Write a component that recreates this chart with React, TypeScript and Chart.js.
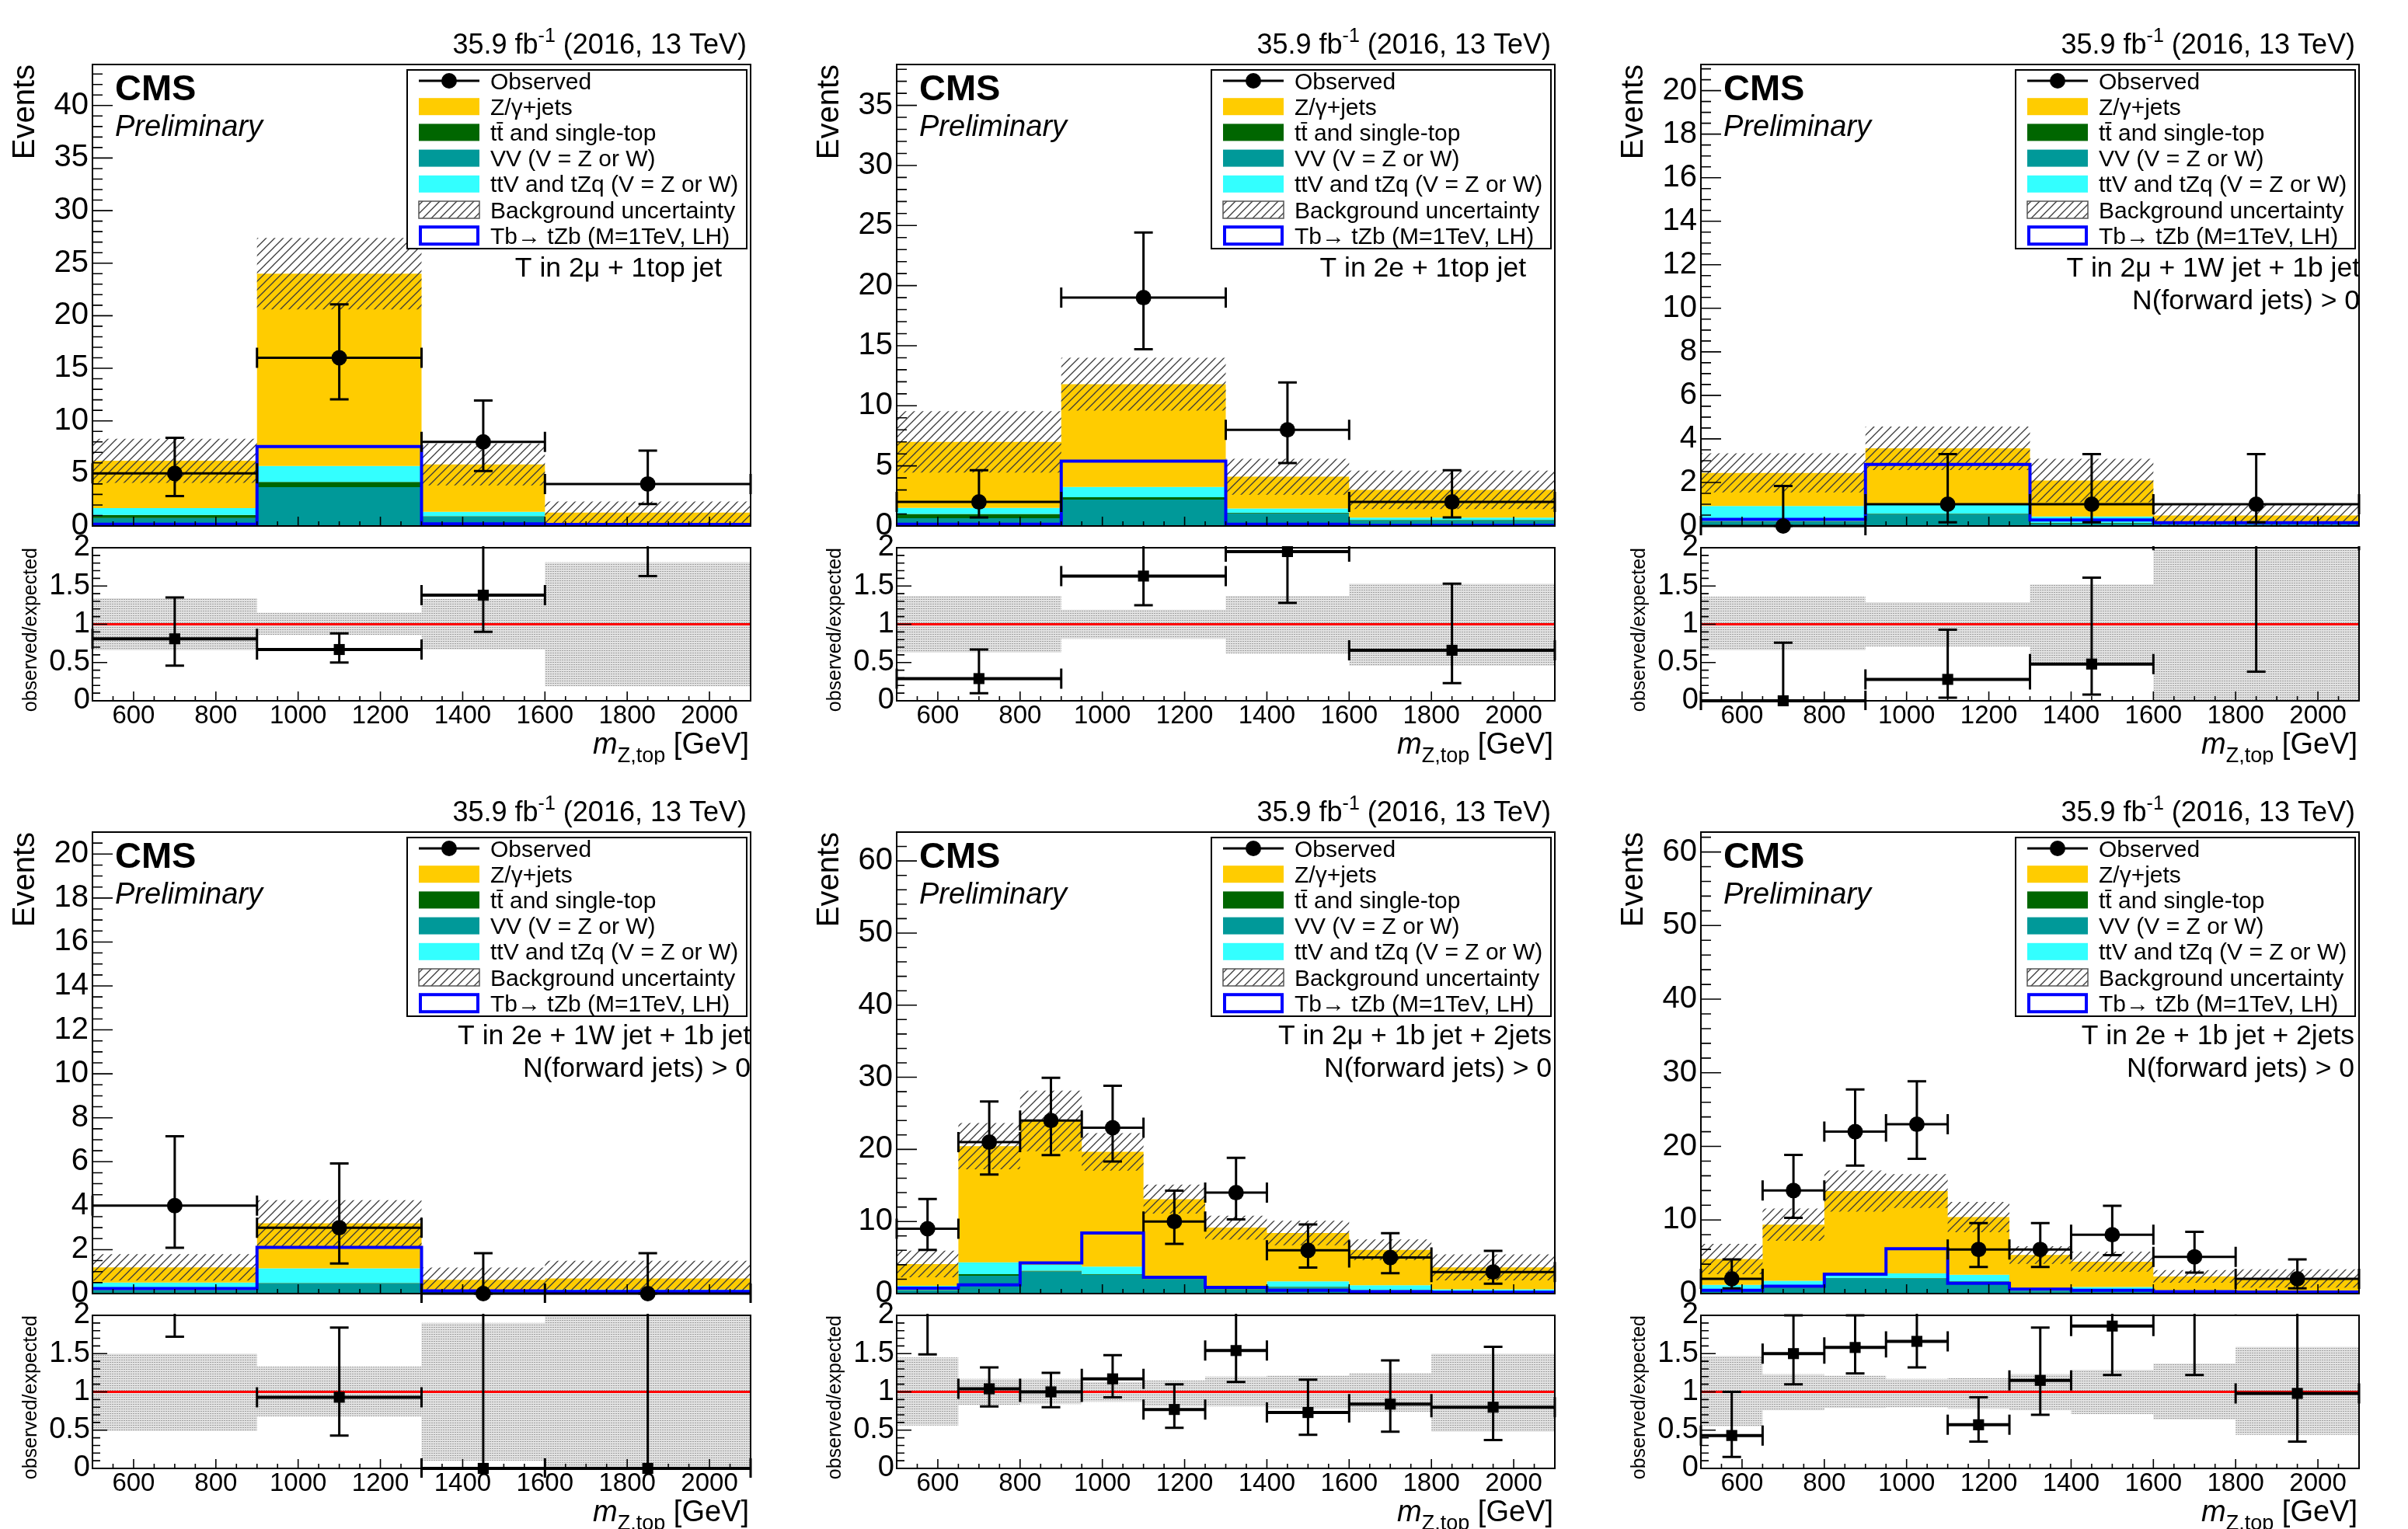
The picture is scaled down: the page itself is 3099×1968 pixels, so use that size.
import React, { useEffect, useRef } from 'react';
import { Chart, registerables } from 'chart.js';

Chart.register(...registerables);

const FONT = '"Liberation Sans", Arimo, Arial, Helvetica, sans-serif';
Chart.defaults.font.family = FONT;

// ---------------- data ----------------
const channelLabels = [
  ['T in 2\u03bc + 1top jet'],
  ['T in 2e + 1top jet'],
  ['T in 2\u03bc + 1W jet + 1b jet', 'N(forward jets) > 0'],
  ['T in 2e + 1W jet + 1b jet', 'N(forward jets) > 0'],
  ['T in 2\u03bc + 1b jet + 2jets', 'N(forward jets) > 0'],
  ['T in 2e + 1b jet + 2jets', 'N(forward jets) > 0'],
];
const legendLabels = [
  'Observed',
  'Z/\u03b3+jets',
  'tt\u0304 and single-top',
  'VV (V = Z or W)',
  'ttV and tZq (V = Z or W)',
  'Background uncertainty',
  'Tb\u2192 tZb (M=1TeV, LH)',
];
const lumiParts = ['35.9 fb', '-1', ' (2016, 13 TeV)'];

const edgesCoarse = [500, 900, 1300, 1600, 2100];
const edgesFine = [500, 650, 800, 950, 1100, 1250, 1400, 1600, 1800, 2100];
const binEdges = [edgesCoarse, edgesCoarse, edgesCoarse, edgesCoarse, edgesFine, edgesFine];

const vvYields = [
  [0.75, 3.7, 0.9, 0.12],
  [0.65, 2.2, 1.05, 0.45],
  [0.2, 0.55, 0.12, 0.1],
  [0.15, 0.47, 0.08, 0.08],
  [0.47, 2.47, 3.08, 2.6, 2.0, 0.6, 0.84, 0.47, 0.25],
  [0.45, 0.8, 2.1, 2.05, 1.42, 0.35, 0.45, 0.18, 0.18],
];
const ttYields = [
  [0.3, 0.5, 0.05, 0.02],
  [0.35, 0.2, 0.05, 0.05],
  [0.02, 0.02, 0.02, 0.01],
  [0.02, 0.02, 0.01, 0.01],
  [0.05, 0.23, 0.1, 0.1, 0.1, 0.1, 0.1, 0.05, 0.05],
  [0.05, 0.05, 0.05, 0.05, 0.25, 0.05, 0.05, 0.02, 0.02],
];
const ttvYields = [
  [0.65, 1.5, 0.4, 0.1],
  [0.5, 0.85, 0.35, 0.2],
  [0.7, 0.4, 0.3, 0.05],
  [0.33, 0.66, 0.05, 0.1],
  [0.55, 1.65, 0.82, 1.05, 0.25, 0.35, 0.76, 0.65, 0.3],
  [0.7, 0.9, 0.5, 0.64, 0.89, 0.2, 0.4, 0.25, 0.1],
];
const zjetsYields = [
  [4.5, 18.3, 4.51, 1.04],
  [5.5, 8.55, 2.65, 2.3],
  [1.52, 2.6, 1.65, 0.32],
  [0.69, 2.05, 0.49, 0.5],
  [3.03, 16.1, 19.95, 15.9, 10.75, 8.1, 6.7, 4.9, 3.04],
  [3.5, 7.62, 11.29, 11.2, 7.84, 4.65, 3.44, 1.88, 1.76],
];
const bkgUnc = [
  [2.1, 3.4, 2.0, 1.05],
  [2.55, 2.2, 1.5, 1.6],
  [0.9, 1.0, 1.0, 0.5],
  [0.6, 1.05, 0.55, 0.8],
  [1.85, 3.2, 4.2, 2.6, 2.0, 1.65, 1.7, 1.45, 1.8],
  [2.05, 2.2, 2.8, 2.3, 2.05, 1.2, 1.35, 0.85, 1.25],
];
const signalYields = [
  [0.16, 7.55, 0.2, 0.15],
  [0.15, 5.4, 0.15, 0.05],
  [0.3, 2.83, 0.28, 0.15],
  [0.23, 2.1, 0.12, 0.1],
  [0.75, 1.2, 4.25, 8.4, 2.25, 0.85, 0.47, 0.28, 0.2],
  [0.45, 1.0, 2.65, 6.1, 1.4, 0.6, 0.45, 0.27, 0.2],
];
const observed = [
  [5, 16, 8, 4],
  [2, 19, 8, 2],
  [0, 1, 1, 1],
  [4, 3, 0, 0],
  [9, 21, 24, 23, 10, 14, 6, 5, 3],
  [2, 14, 22, 23, 6, 6, 8, 5, 2],
];
const obsLow = [
  [2.84, 12.05, 5.23, 2.09],
  [0.71, 14.71, 5.23, 0.71],
  [0, 0.17, 0.17, 0.17],
  [2.09, 1.37, 0, 0],
  [6.06, 16.5, 19.21, 18.31, 6.89, 10.3, 3.62, 2.84, 1.37],
  [0.71, 10.3, 17.4, 18.31, 3.62, 3.62, 5.23, 2.84, 0.71],
];
const obsHigh = [
  [8.38, 21.08, 11.94, 7.16],
  [4.64, 24.42, 11.94, 4.64],
  [1.84, 3.3, 3.3, 3.3],
  [7.16, 5.92, 1.84, 1.84],
  [13.11, 26.63, 29.92, 28.83, 14.27, 18.83, 9.58, 8.38, 5.92],
  [4.64, 18.83, 27.73, 28.83, 9.58, 9.58, 11.94, 8.38, 4.64],
];
const ratioVals = [
  [0.81, 0.67, 1.38, 3.1],
  [0.29, 1.63, 1.95, 0.66],
  [0, 0.28, 0.48, 2.1],
  [3.36, 0.93, 0, 0],
  [2.2, 1.04, 1.0, 1.17, 0.77, 1.54, 0.73, 0.84, 0.8],
  [0.43, 1.5, 1.58, 1.66, 0.57, 1.15, 1.86, 2.15, 0.98],
];
const ratioLow = [
  [0.46, 0.5, 0.9, 1.63],
  [0.1, 1.25, 1.28, 0.23],
  [0, 0.04, 0.08, 0.38],
  [1.72, 0.43, 0, 0],
  [1.49, 0.81, 0.8, 0.93, 0.53, 1.13, 0.44, 0.48, 0.37],
  [0.15, 1.1, 1.24, 1.32, 0.35, 0.7, 1.22, 1.22, 0.35],
];
const ratioHigh = [
  [1.35, 0.88, 2.04, 5.6],
  [0.67, 2.07, 2.9, 1.53],
  [0.76, 0.93, 1.61, 6.9],
  [6.0, 1.84, 2.9, 2.7],
  [3.2, 1.32, 1.25, 1.48, 1.1, 2.06, 1.16, 1.41, 1.59],
  [1.0, 2.0, 2.0, 2.07, 0.93, 1.84, 2.74, 3.6, 2.25],
];
const bandLow = [
  [0.66, 0.86, 0.67, 0.19],
  [0.63, 0.81, 0.62, 0.46],
  [0.66, 0.71, 0.5, 0],
  [0.49, 0.68, 0.1, 0],
  [0.56, 0.83, 0.84, 0.87, 0.81, 0.81, 0.78, 0.74, 0.48],
  [0.55, 0.76, 0.79, 0.8, 0.78, 0.76, 0.71, 0.64, 0.44],
];
const bandHigh = [
  [1.34, 1.15, 1.33, 1.81],
  [1.37, 1.19, 1.37, 1.53],
  [1.36, 1.29, 1.52, 2.0],
  [1.5, 1.33, 1.9, 2.0],
  [1.45, 1.17, 1.17, 1.13, 1.15, 1.2, 1.21, 1.24, 1.5],
  [1.47, 1.23, 1.21, 1.17, 1.18, 1.23, 1.29, 1.37, 1.59],
];

const yMax = [43.9, 38.4, 21.2, 21.0, 64.0, 62.7];
const yMajorTicks = [
  [0, 5, 10, 15, 20, 25, 30, 35, 40],
  [0, 5, 10, 15, 20, 25, 30, 35],
  [0, 2, 4, 6, 8, 10, 12, 14, 16, 18, 20],
  [0, 2, 4, 6, 8, 10, 12, 14, 16, 18, 20],
  [0, 10, 20, 30, 40, 50, 60],
  [0, 10, 20, 30, 40, 50, 60],
];
const yMinorStep = [1, 1, 0.5, 0.5, 2, 2];
const xMajorTicks = [600, 800, 1000, 1200, 1400, 1600, 1800, 2000];
const xMinorStep = 50;
const xRange = [500, 2100];
const ratioTicks = [0, 0.5, 1, 1.5, 2];
const ratioMinorStep = 0.1;
const ratioRange = [0, 2];

// ---------------- styles / layout ----------------
const COLORS = {
  z: '#ffcc00',
  tt: '#006600',
  vv: '#009999',
  ttv: '#33ffff',
  signal: '#0000ff',
};
const legendColors = [null, COLORS.z, COLORS.tt, COLORS.vv, COLORS.ttv];

const PANEL_W = 1035;
const ROW_H = 988;
const COL_X = [0, 1035, 2070];
const FRAME_L = 119;
const FRAME_R = 966;
const MAIN_T = 83;
const MAIN_B = 677;
const MAIN_H = 712;
const RATIO_T = 705;
const RATIO_B = 902;
const RCV_TOP = 672;
const RCV_H = 312;
const chanRight = [929, 929, 967, 966, 962, 960];

function stepPoints(e: number[], vals: number[]) {
  const pts = vals.map((v, i) => ({ x: e[i], y: v }));
  pts.push({ x: e[e.length - 1], y: vals[vals.length - 1] });
  return pts;
}
function stepList(lo: number, hi: number, step: number) {
  const out: number[] = [];
  const n = Math.floor((hi - lo) / step + 1e-6);
  for (let i = 0; i <= n; i++) out.push(+(lo + i * step).toFixed(6));
  return out;
}

function makeHatch() {
  const s = 11;
  const c = document.createElement('canvas');
  c.width = s;
  c.height = s;
  const g = c.getContext('2d')!;
  g.strokeStyle = '#3a3a3a';
  g.lineWidth = 1.3;
  g.beginPath();
  g.moveTo(-1, s + 1);
  g.lineTo(s + 1, -1);
  g.moveTo(-1, 1);
  g.lineTo(1, -1);
  g.moveTo(s - 1, s + 1);
  g.lineTo(s + 1, s - 1);
  g.stroke();
  return g.createPattern(c, 'repeat');
}
function makeDots() {
  const c = document.createElement('canvas');
  c.width = 3;
  c.height = 3;
  const g = c.getContext('2d')!;
  g.fillStyle = '#e2e2e2';
  g.fillRect(0, 0, 3, 3);
  g.fillStyle = '#a0a0a0';
  g.fillRect(0, 0, 2, 1);
  return g.createPattern(c, 'repeat');
}

function txt(ctx: any, s: string, x: number, y: number, size: number, o: any = {}) {
  ctx.save();
  ctx.font = `${o.italic ? 'italic ' : ''}${o.bold ? 'bold ' : ''}${size}px ${FONT}`;
  ctx.fillStyle = o.color || '#000';
  ctx.textAlign = o.align || 'left';
  ctx.textBaseline = 'alphabetic';
  if (o.rotate) {
    ctx.translate(x, y);
    ctx.rotate(o.rotate);
    ctx.fillText(s, 0, 0);
  } else {
    ctx.fillText(s, x, y);
  }
  ctx.restore();
}
function measure(ctx: any, s: string, size: number, o: any = {}) {
  ctx.save();
  ctx.font = `${o.italic ? 'italic ' : ''}${o.bold ? 'bold ' : ''}${size}px ${FONT}`;
  const w = ctx.measureText(s).width;
  ctx.restore();
  return w;
}

function drawAxes(chart: any, yMaj: number[], yMin: number[], yL: number, yl: number, xL: number, xl: number) {
  const { ctx, chartArea: a, scales } = chart;
  const x = scales.x;
  const y = scales.y;
  ctx.save();
  ctx.strokeStyle = '#000';
  ctx.lineWidth = 1.6;
  ctx.beginPath();
  yMaj.forEach((v) => {
    const py = y.getPixelForValue(v);
    ctx.moveTo(a.left, py);
    ctx.lineTo(a.left + yL, py);
  });
  yMin.forEach((v) => {
    const py = y.getPixelForValue(v);
    ctx.moveTo(a.left, py);
    ctx.lineTo(a.left + yl, py);
  });
  xMajorTicks.forEach((v) => {
    const px = x.getPixelForValue(v);
    ctx.moveTo(px, a.bottom);
    ctx.lineTo(px, a.bottom - xL);
  });
  stepList(xRange[0], xRange[1], xMinorStep).forEach((v) => {
    const px = x.getPixelForValue(v);
    ctx.moveTo(px, a.bottom);
    ctx.lineTo(px, a.bottom - xl);
  });
  ctx.stroke();
  ctx.lineWidth = 2;
  ctx.strokeRect(a.left, a.top, a.right - a.left, a.bottom - a.top);
  ctx.restore();
}

function drawErrors(chart: any, e: number[], vals: number[], lows: number[], highs: number[], hW: number) {
  const { ctx, chartArea: a, scales } = chart;
  const x = scales.x;
  const y = scales.y;
  ctx.save();
  ctx.beginPath();
  ctx.rect(a.left - 20, a.top - 2, a.right - a.left + 40, a.bottom - a.top + 14);
  ctx.clip();
  ctx.strokeStyle = '#000';
  ctx.lineWidth = hW;
  ctx.beginPath();
  vals.forEach((v, i) => {
    const xl = x.getPixelForValue(e[i]);
    const xr = x.getPixelForValue(e[i + 1]);
    const yv = y.getPixelForValue(v);
    ctx.moveTo(xl, yv);
    ctx.lineTo(xr, yv);
  });
  ctx.stroke();
  ctx.lineWidth = 3;
  ctx.beginPath();
  vals.forEach((v, i) => {
    const xl = x.getPixelForValue(e[i]);
    const xr = x.getPixelForValue(e[i + 1]);
    const xc = x.getPixelForValue((e[i] + e[i + 1]) / 2);
    const yv = y.getPixelForValue(v);
    const yl = y.getPixelForValue(lows[i]);
    const yh = y.getPixelForValue(highs[i]);
    ctx.moveTo(xl, yv - 13);
    ctx.lineTo(xl, yv + 13);
    ctx.moveTo(xr, yv - 13);
    ctx.lineTo(xr, yv + 13);
    ctx.moveTo(xc, yl);
    ctx.lineTo(xc, yh);
    ctx.moveTo(xc - 12, yl);
    ctx.lineTo(xc + 12, yl);
    ctx.moveTo(xc - 12, yh);
    ctx.lineTo(xc + 12, yh);
  });
  ctx.stroke();
  ctx.restore();
}

function drawLegend(ctx: any, hatch: any) {
  const L = 524, R = 961, T = 90, B = 320;
  ctx.save();
  ctx.fillStyle = '#fff';
  ctx.fillRect(L, T, R - L, B - T);
  ctx.strokeStyle = '#000';
  ctx.lineWidth = 2;
  ctx.strokeRect(L, T, R - L, B - T);
  const sx0 = 539, sx1 = 617, tx = 631;
  legendLabels.forEach((lab, k) => {
    const cy = 104 + k * 33.2;
    if (k === 0) {
      ctx.strokeStyle = '#000';
      ctx.lineWidth = 3;
      ctx.beginPath();
      ctx.moveTo(sx0, cy);
      ctx.lineTo(sx1, cy);
      ctx.stroke();
      ctx.fillStyle = '#000';
      ctx.beginPath();
      ctx.arc((sx0 + sx1) / 2, cy, 10, 0, Math.PI * 2);
      ctx.fill();
    } else if (k <= 4) {
      ctx.fillStyle = legendColors[k];
      ctx.fillRect(sx0, cy - 11, sx1 - sx0, 22);
    } else if (k === 5) {
      ctx.fillStyle = hatch;
      ctx.fillRect(sx0, cy - 11, sx1 - sx0, 22);
      ctx.strokeStyle = '#555';
      ctx.lineWidth = 1.5;
      ctx.strokeRect(sx0, cy - 11, sx1 - sx0, 22);
    } else {
      ctx.strokeStyle = COLORS.signal;
      ctx.lineWidth = 4;
      ctx.strokeRect(sx0 + 2, cy - 11, sx1 - sx0 - 4, 22);
    }
    txt(ctx, lab, tx, cy + 10.5, 30);
  });
  ctx.restore();
}

function drawLumi(ctx: any, right: number, base: number) {
  const w3 = measure(ctx, lumiParts[2], 36);
  const w2 = measure(ctx, lumiParts[1], 25);
  const w1 = measure(ctx, lumiParts[0], 36);
  txt(ctx, lumiParts[2], right - w3, base, 36);
  txt(ctx, lumiParts[1], right - w3 - w2, base - 15, 25);
  txt(ctx, lumiParts[0], right - w3 - w2 - w1, base, 36);
}

const NONE = 'rgba(0,0,0,0)';

function mainConfig(p: number, hatch: any): any {
  const e = binEdges[p];
  const c1 = vvYields[p];
  const c2 = c1.map((v, i) => v + ttYields[p][i]);
  const c3 = c2.map((v, i) => v + ttvYields[p][i]);
  const c4 = c3.map((v, i) => v + zjetsYields[p][i]);
  const lo = c4.map((v, i) => Math.max(0, v - bkgUnc[p][i]));
  const hi = c4.map((v, i) => v + bkgUnc[p][i]);
  const centers = e.slice(0, -1).map((v, i) => (v + e[i + 1]) / 2);
  const area = (vals: number[], color: any, order: number, fill: any) => ({
    data: stepPoints(e, vals),
    stepped: 'before',
    borderColor: NONE,
    borderWidth: 0,
    backgroundColor: color,
    fill,
    pointRadius: 0,
    order,
  });
  const yMinor = stepList(0, yMax[p], yMinorStep[p]);
  return {
    type: 'line',
    data: {
      datasets: [
        area(c1, COLORS.vv, 20, 'origin'),
        area(c2, COLORS.tt, 19, '-1'),
        area(c3, COLORS.ttv, 18, '-1'),
        area(c4, COLORS.z, 17, '-1'),
        area(lo, NONE, 16, false),
        area(hi, hatch, 15, '-1'),
        {
          data: stepPoints(e, signalYields[p]),
          stepped: 'before',
          borderColor: COLORS.signal,
          borderWidth: 4,
          fill: false,
          pointRadius: 0,
          order: 10,
        },
        {
          data: centers.map((x, i) => ({ x, y: observed[p][i] })),
          showLine: false,
          pointRadius: 10,
          pointStyle: 'circle',
          pointBackgroundColor: '#000',
          pointBorderColor: '#000',
          pointBorderWidth: 0,
          order: 1,
          clip: { left: 20, right: 20, top: 2, bottom: 12 },
        },
      ],
    },
    options: {
      responsive: false,
      animation: false,
      devicePixelRatio: 1,
      events: [],
      layout: { padding: { left: 0, top: MAIN_T, right: PANEL_W - FRAME_R, bottom: MAIN_H - MAIN_B } },
      plugins: { legend: { display: false }, tooltip: { enabled: false }, title: { display: false } },
      scales: {
        x: { type: 'linear', min: xRange[0], max: xRange[1], display: false },
        y: {
          type: 'linear',
          min: 0,
          max: yMax[p],
          position: 'left',
          afterFit: (s: any) => {
            s.width = FRAME_L;
          },
          afterBuildTicks: (s: any) => {
            s.ticks = yMajorTicks[p].map((v) => ({ value: v }));
          },
          grid: { display: false, drawTicks: false },
          border: { display: false },
          ticks: {
            autoSkip: false,
            padding: 5,
            color: '#000',
            font: { family: FONT, size: 40 },
            callback: (v: any) => String(v),
          },
        },
      },
    },
    plugins: [
      {
        id: 'cmsMain',
        afterDatasetsDraw(chart: any) {
          drawErrors(chart, e, observed[p], obsLow[p], obsHigh[p], 3);
        },
        afterDraw(chart: any) {
          const ctx = chart.ctx;
          drawAxes(chart, yMajorTicks[p], yMinor, 26, 13, 12, 6);
          drawLumi(ctx, 961, 69);
          txt(ctx, 'CMS', 148, 129, 47, { bold: true });
          txt(ctx, 'Preliminary', 148, 175, 38, { italic: true });
          channelLabels[p].forEach((s, k) => txt(ctx, s, chanRight[p], 356 + 42 * k, 35.5, { align: 'right' }));
          drawLegend(ctx, hatch);
          txt(ctx, 'Events', 44, MAIN_T, 40, { align: 'right', rotate: -Math.PI / 2 });
        },
      },
    ],
  };
}

function ratioConfig(p: number, dots: any): any {
  const e = binEdges[p];
  const centers = e.slice(0, -1).map((v, i) => (v + e[i + 1]) / 2);
  const rMinor = stepList(ratioRange[0], ratioRange[1], ratioMinorStep);
  return {
    type: 'line',
    data: {
      datasets: [
        {
          data: stepPoints(e, bandLow[p]),
          stepped: 'before',
          borderColor: NONE,
          borderWidth: 0,
          pointRadius: 0,
          fill: false,
          order: 10,
        },
        {
          data: stepPoints(e, bandHigh[p]),
          stepped: 'before',
          borderColor: NONE,
          borderWidth: 0,
          pointRadius: 0,
          backgroundColor: dots,
          fill: '-1',
          order: 9,
        },
        {
          data: [
            { x: xRange[0], y: 1 },
            { x: xRange[1], y: 1 },
          ],
          borderColor: '#ff0000',
          borderWidth: 3,
          pointRadius: 0,
          fill: false,
          order: 5,
        },
        {
          data: centers.map((x, i) => ({ x, y: ratioVals[p][i] })),
          showLine: false,
          pointRadius: 10,
          pointStyle: 'rect',
          pointBackgroundColor: '#000',
          pointBorderColor: '#000',
          pointBorderWidth: 0,
          order: 1,
          clip: { left: 20, right: 20, top: 2, bottom: 12 },
        },
      ],
    },
    options: {
      responsive: false,
      animation: false,
      devicePixelRatio: 1,
      events: [],
      layout: { padding: { left: 0, top: RATIO_T - RCV_TOP, right: PANEL_W - FRAME_R, bottom: 0 } },
      plugins: { legend: { display: false }, tooltip: { enabled: false }, title: { display: false } },
      scales: {
        x: {
          type: 'linear',
          min: xRange[0],
          max: xRange[1],
          position: 'bottom',
          afterFit: (s: any) => {
            s.height = RCV_H - (RATIO_B - RCV_TOP);
          },
          afterBuildTicks: (s: any) => {
            s.ticks = xMajorTicks.map((v) => ({ value: v }));
          },
          grid: { display: false, drawTicks: false },
          border: { display: false },
          ticks: {
            autoSkip: false,
            maxRotation: 0,
            padding: 0,
            color: '#000',
            font: { family: FONT, size: 33 },
            callback: (v: any) => String(v),
          },
        },
        y: {
          type: 'linear',
          min: ratioRange[0],
          max: ratioRange[1],
          position: 'left',
          afterFit: (s: any) => {
            s.width = FRAME_L;
          },
          afterBuildTicks: (s: any) => {
            s.ticks = ratioTicks.map((v) => ({ value: v }));
          },
          grid: { display: false, drawTicks: false },
          border: { display: false },
          ticks: {
            autoSkip: false,
            padding: 3,
            color: '#000',
            font: { family: FONT, size: 38 },
            callback: (v: any) => String(v),
          },
        },
      },
    },
    plugins: [
      {
        id: 'cmsRatio',
        afterDatasetsDraw(chart: any) {
          drawErrors(chart, e, ratioVals[p], ratioLow[p], ratioHigh[p], 4);
        },
        afterDraw(chart: any) {
          const ctx = chart.ctx;
          drawAxes(chart, ratioTicks, rMinor, 19, 10, 12, 6);
          txt(ctx, 'observed/expected', 47, RATIO_T - RCV_TOP, 25, { align: 'right', rotate: -Math.PI / 2 });
          const base = 970 - RCV_TOP;
          const R = 964;
          const w3 = measure(ctx, ' [GeV]', 38);
          const w2 = measure(ctx, 'Z,top', 27);
          const w1 = measure(ctx, 'm', 38, { italic: true });
          txt(ctx, ' [GeV]', R - w3, base, 38);
          txt(ctx, 'Z,top', R - w3 - w2, base + 11, 27);
          txt(ctx, 'm', R - w3 - w2 - w1, base, 38, { italic: true });
        },
      },
    ],
  };
}

function Panel({ p }: { p: number }) {
  const mainRef = useRef<HTMLCanvasElement>(null);
  const ratioRef = useRef<HTMLCanvasElement>(null);
  useEffect(() => {
    const hatch = makeHatch();
    const dots = makeDots();
    const c1 = new Chart(mainRef.current!, mainConfig(p, hatch));
    const c2 = new Chart(ratioRef.current!, ratioConfig(p, dots));
    return () => {
      c1.destroy();
      c2.destroy();
    };
  }, [p]);
  const left = COL_X[p % 3];
  const top = Math.floor(p / 3) * ROW_H;
  return (
    <div style={{ position: 'absolute', left, top, width: PANEL_W, height: ROW_H }}>
      <canvas
        ref={mainRef}
        width={PANEL_W}
        height={MAIN_H}
        style={{ position: 'absolute', left: 0, top: 0, width: PANEL_W, height: MAIN_H }}
      />
      <canvas
        ref={ratioRef}
        width={PANEL_W}
        height={RCV_H}
        style={{ position: 'absolute', left: 0, top: RCV_TOP, width: PANEL_W, height: RCV_H }}
      />
    </div>
  );
}

export default function App() {
  return (
    <div
      style={{
        position: 'absolute',
        left: 0,
        top: 0,
        width: 3099,
        height: 1968,
        overflow: 'hidden',
        background: '#fff',
      }}
    >
      {[0, 1, 2, 3, 4, 5].map((p) => (
        <Panel key={p} p={p} />
      ))}
    </div>
  );
}
